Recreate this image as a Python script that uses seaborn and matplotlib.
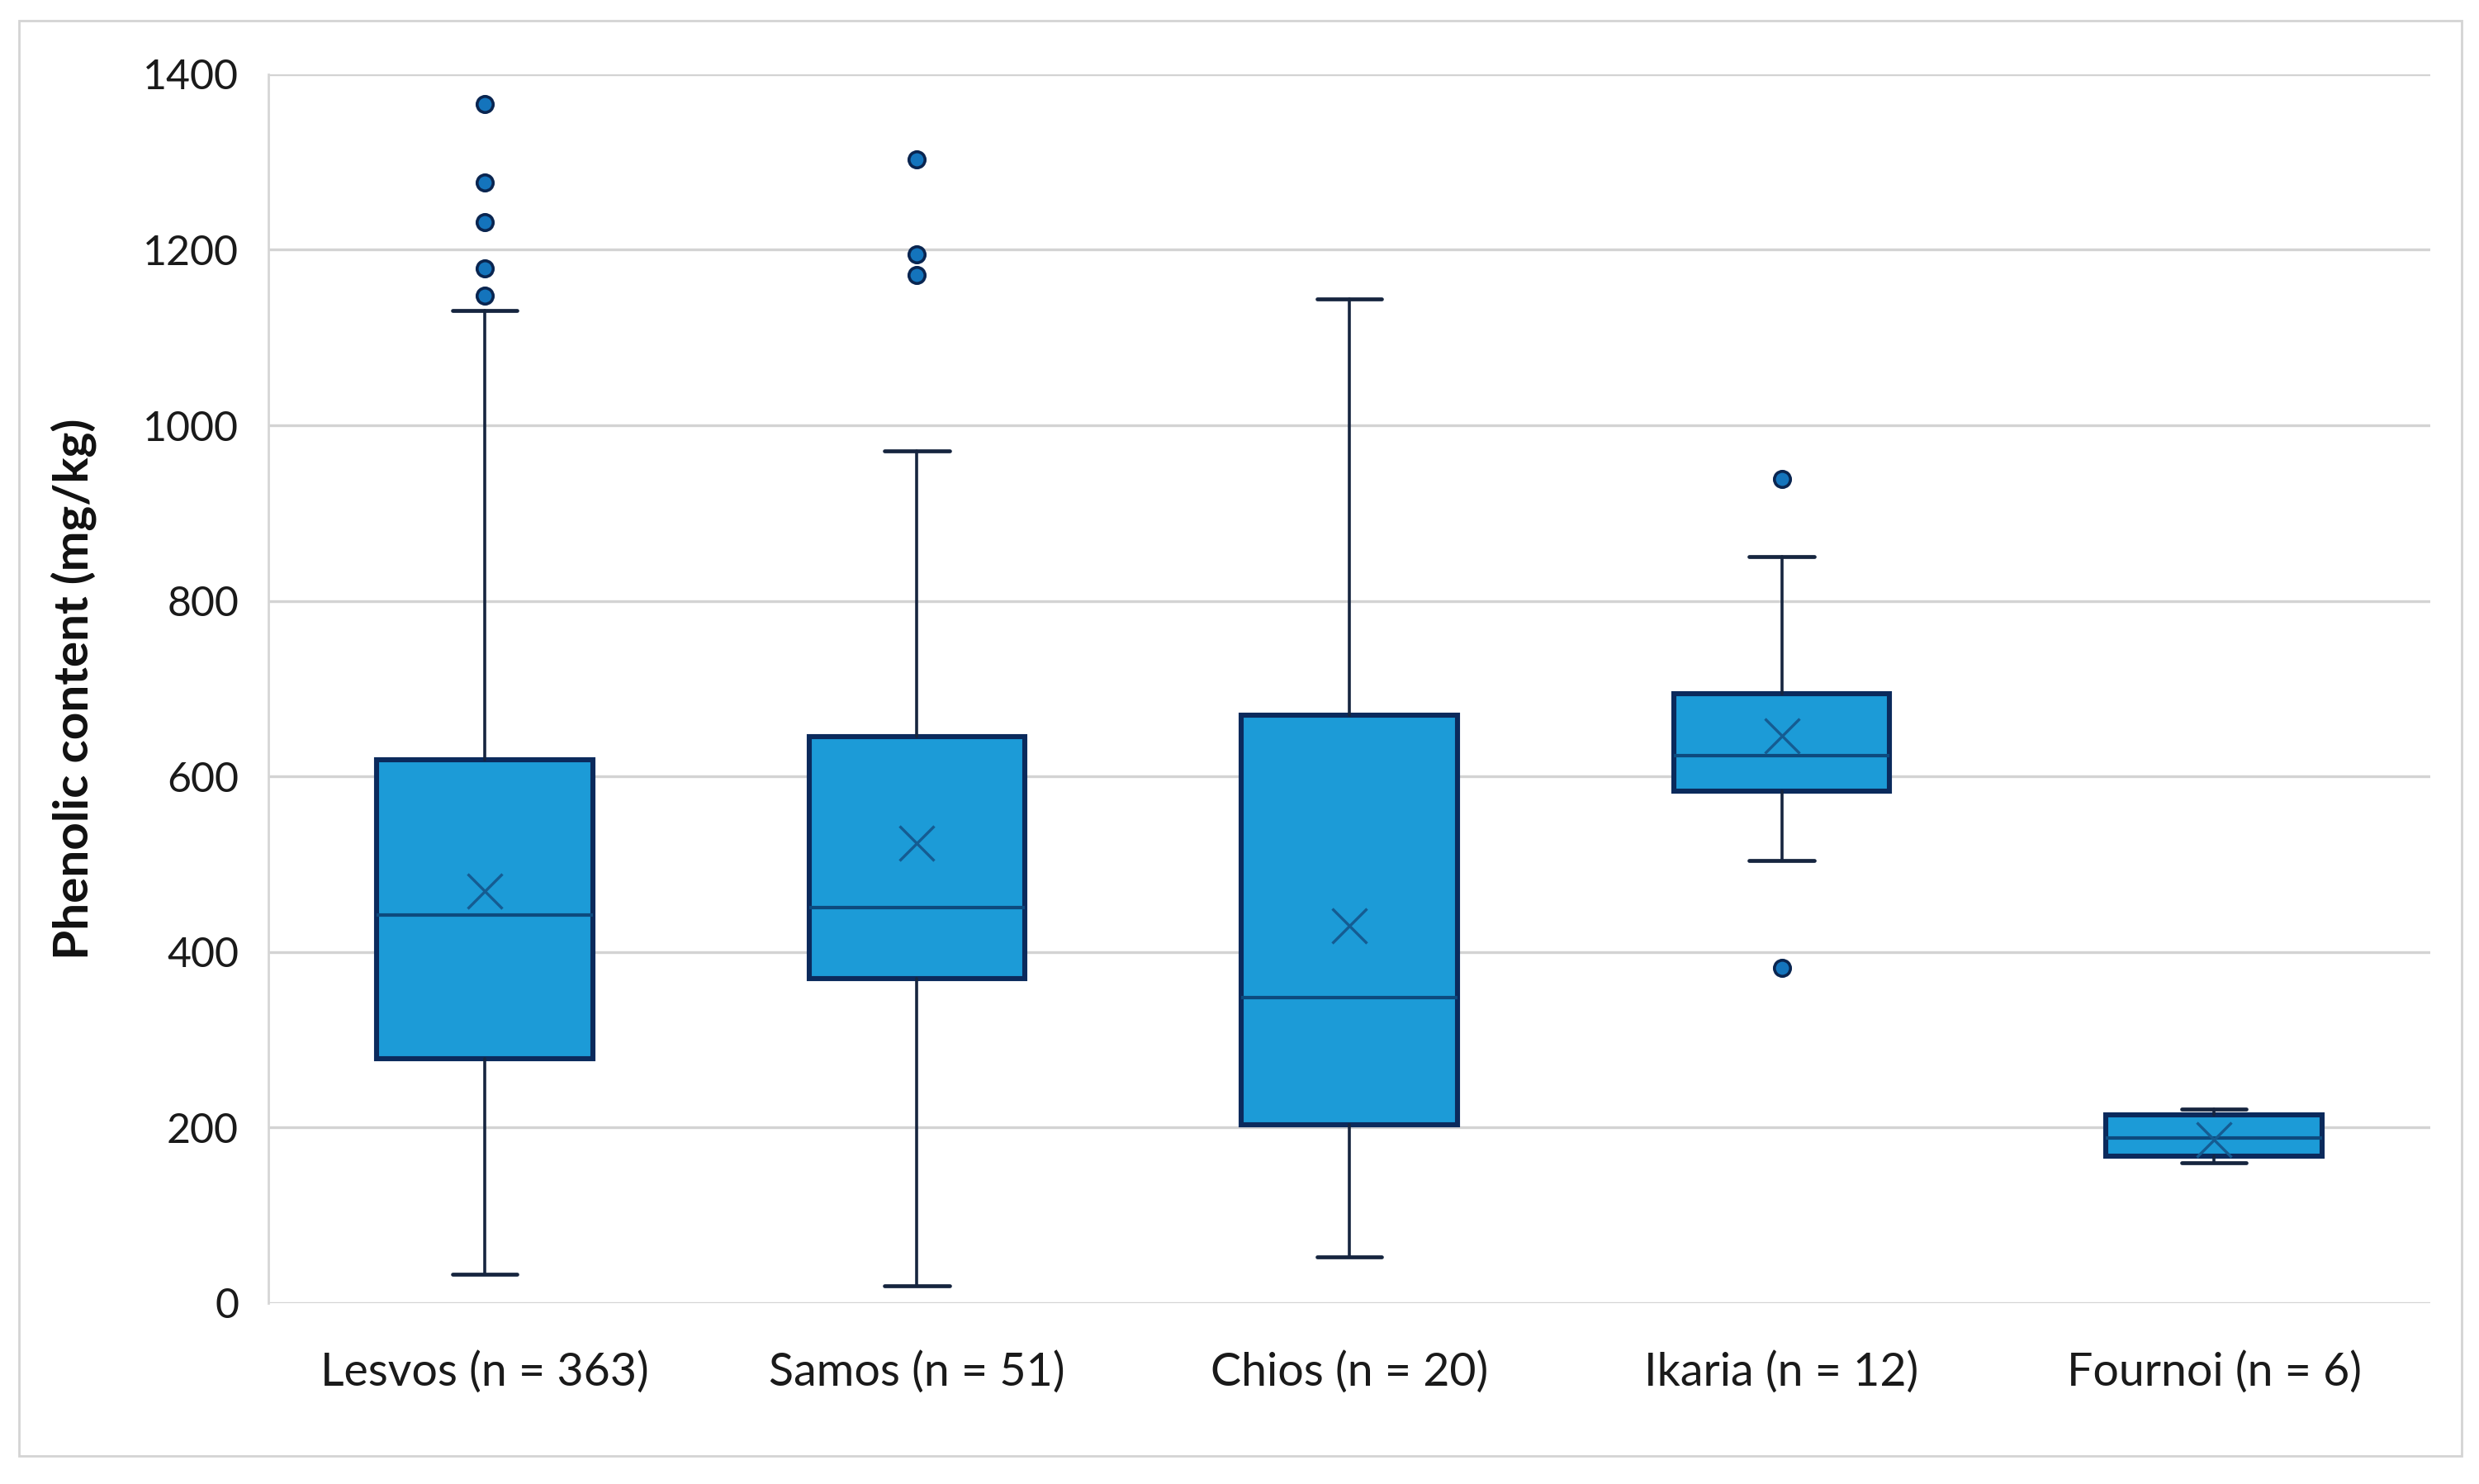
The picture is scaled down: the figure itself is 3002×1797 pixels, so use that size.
import numpy as np
import pandas as pd
import seaborn as sns
import matplotlib.pyplot as plt
from matplotlib.patches import Rectangle

# values (mg/kg)
islands = ['Lesvos (n = 363)', 'Samos (n = 51)', 'Chios (n = 20)', 'Ikaria (n = 12)', 'Fournoi (n = 6)']
whisk_lo = [33, 20, 53, 504, 160]
q1 = [278, 370, 203, 583, 167]
median = [442, 451, 348, 624, 188]
q3 = [619, 645, 670, 694, 214]
whisk_hi = [1131, 971, 1144, 850, 221]
mean = [469, 524, 430, 646, 186]

outlier_island = ['Lesvos (n = 363)'] * 5 + ['Samos (n = 51)'] * 3 + ['Ikaria (n = 12)'] * 2
outlier_value = [1366, 1277, 1231, 1179, 1148, 1303, 1195, 1171, 939, 382]

yticks = [0, 200, 400, 600, 800, 1000, 1200, 1400]

box_fill = '#1C9BD7'
box_edge = '#0B2A5C'
line_col = '#16253F'

sns.set_theme(style='white')
plt.rcParams['font.family'] = ['Lato', 'DejaVu Sans']

fig = plt.figure(figsize=(15.01, 8.985), dpi=200)
ax = fig.add_axes([0.1083, 0.1219, 0.8720, 0.8281])

# outer light frame like the Excel chart area
fig.patches.append(Rectangle((23 / 3002, 1 - 1763 / 1797), (2981 - 23) / 3002, (1763 - 25) / 1797,
                             transform=fig.transFigure, fill=False, edgecolor='#D4D4D4', lw=1.0))

for y in yticks:
    ax.axhline(y, color='#D3D3D3', lw=1.2, zorder=0)

stats = []
for i, name in enumerate(islands):
    stats.append({'label': name, 'whislo': whisk_lo[i], 'q1': q1[i], 'med': median[i],
                  'q3': q3[i], 'whishi': whisk_hi[i], 'fliers': []})

ax.bxp(stats, positions=range(len(islands)), widths=0.5, patch_artist=True, showfliers=False,
       manage_ticks=False,
       boxprops=dict(facecolor=box_fill, edgecolor=box_edge, linewidth=2.2),
       medianprops=dict(color='#0D4A7E', linewidth=1.5),
       whiskerprops=dict(color=line_col, linewidth=1.3),
       capprops=dict(color=line_col, linewidth=1.7), capwidths=0.15, zorder=2)

df_out = pd.DataFrame({'island': outlier_island, 'value': outlier_value})
sns.stripplot(data=df_out, x='island', y='value', order=islands, jitter=False, ax=ax,
              color='#1474BC', edgecolor='#0A2550', linewidth=1.3, size=7, zorder=3, clip_on=False)

df_mean = pd.DataFrame({'island': islands, 'mean': mean})
sns.pointplot(data=df_mean, x='island', y='mean', order=islands, ax=ax, markers='x',
              linestyles='none', errorbar=None, color='#155C92', markersize=15,
              markeredgewidth=1.2, zorder=4)

ax.set_xlim(-0.5, len(islands) - 0.5)
ax.set_ylim(0, 1400)
ax.set_yticks(yticks)
ax.set_xticks(range(len(islands)))
ax.set_xticklabels(islands, fontsize=20, color='#1A1A1A')
ax.tick_params(axis='y', labelsize=18, labelcolor='#1A1A1A', pad=13, length=0)
ax.tick_params(axis='x', length=0, pad=21)
ax.set_xlabel('')
ax.set_ylabel('Phenolic content (mg/kg)', fontsize=21, fontweight='bold', labelpad=20, color='#111111')

for s in ['top', 'right', 'bottom']:
    ax.spines[s].set_visible(False)
ax.spines['left'].set_color('#D6D6D6')
ax.spines['left'].set_linewidth(1.0)

fig.savefig('out.png', dpi=200, facecolor='white')
